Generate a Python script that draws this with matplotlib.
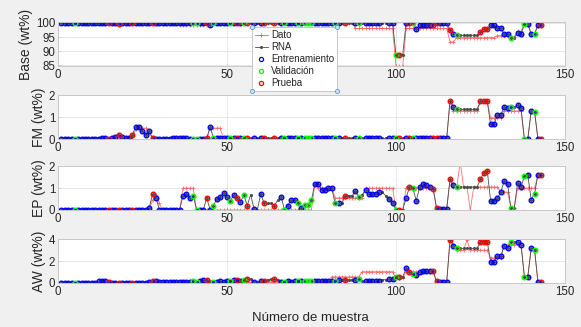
import numpy as np
import matplotlib
matplotlib.use("Agg")
import matplotlib.pyplot as plt
from matplotlib.lines import Line2D

plt.rcParams['font.family'] = ['Liberation Sans', 'DejaVu Sans']

# sample number and which set each sample belongs to
# B = Entrenamiento, G = Validacion, P = Prueba, N = no circle
sample = np.arange(1, 144)
split = list(
    "BBBBGBBBBB" "BBBBPBBPBB" "BPBBBBBPBB" "BBBBBBBBBG" "GBBPBGBBBB"
    "GBPBGPNBNB" "PNNPNBGBBB" "GBGGGBBBBB" "BGBNPNNBGN" "BBBBBNNBBG"
    "PNBPGBBBBB" "PPBBBPBGNN" "NNNNPPPBBB" "BBBGNBBGBB" "GBP"
)

base_rna = [100] * 15 + [99.8, 100, 99.7, 100, 100,
            100, 99.8, 100, 100, 99.8, 100, 100, 99.8, 100, 100] + [100] * 13 + [99.8, 99.2] + [100] * 54 + [
            88.7, 88.8, 88.8, 100, 100, 100, 97.7, 99.1, 99.1, 99.1, 99.3,
            99.3, 100, 100, 100, 100, 97.4, 96.2, 95.6, 95.6, 95.6,
            95.6, 95.6, 95.6, 95.6, 96.8, 97.7, 97.7, 99.1, 99.1, 98.0,
            98.0, 96.2, 96.2, 94.7, 94.7, 96.5, 96.0, 99.5, 99.5, 96.2,
            96.2, 99.2, 99.2]
base_dato = [100] * 35 + [99.4] * 9 + [100] * 43 + [98.0] * 12 + [84.7] * 3 + [98.0] * 13 + [
             93.3, 93.3] + [94.8] * 12 + [95.5] * 4 + [95.0, 95.0, 97.0, 97.0, 99.5, 99.5, 96.0, 96.0, 99.0, 99.0]

fm_rna = [0.02] * 10 + [
          0.02, 0.02, 0.03, 0.03, 0.02, 0.05, 0.1, 0.2, 0.1, 0.03,
          0.03, 0.2, 0.55, 0.55, 0.35, 0.2, 0.35, 0.05, 0.02, 0.02,
          0.02, 0.02, 0.02, 0.03, 0.05, 0.05, 0.03, 0.03, 0.02, 0.02,
          0.02, 0.02, 0.02, 0.03, 0.55, 0.05, 0.05, 0.05, 0.04, 0.03] + [0.03] * 20 + [0.06] * 10 + [0.03] * 35 + [
          1.75, 1.47, 1.35, 1.35, 1.35, 1.35, 1.35, 1.35, 1.35, 1.72,
          1.72, 1.72, 0.67, 0.67, 1.1, 1.1, 1.47, 1.4, 1.47, 1.45,
          1.55, 1.42, 0, 0, 1.28, 1.25, 0, 0]
fm_dato = [0] * 17 + [0.15, 0, 0, 0, 0, 0.45, 0.5, 0.5, 0.5, 0.3] + [0] * 17 + [0.5] * 4 + [0] * 67 + [
           1.75] + [1.28] * 8 + [1.72] * 3 + [0.96] * 4 + [1.28] * 6 + [0, 0, 1.25, 1.25, 0, 0]

ep_rna = [0.02] * 26 + [
          0.1, 0.72, 0.55, 0.02,
          0.02, 0.02, 0.02, 0.02, 0.02, 0.02, 0.66, 0.74, 0.55, 0.66,
          0.02, 0.02, 0.02, 0.55, 0.02, 0.2, 0.5, 0.6, 0.77, 0.6,
          0.43, 0.68, 0.55, 0.37, 0.68, 0.2, 0.7, 0.05, 0.02, 0.74,
          0.3, 0.3, 0.3, 0.2, 0.45, 0.6, 0.02, 0.2, 0.45, 0.45,
          0.3, 0.1, 0.25, 0.25, 0.45, 1.2, 1.2, 0.93, 0.93, 1.0,
          1.0, 0.3, 0.3, 0.3, 0.65, 0.65, 0.65, 0.85, 0.6, 0.7,
          0.9, 0.75, 0.75, 0.75, 0.8, 0.8, 0.65, 0.5, 0.3, 0.02,
          0.02, 0.02, 0.55, 1.05, 1.0, 0.42, 1.05, 1.2, 1.12, 1.05,
          0.98, 0.1, 0.05, 0.05, 0.05, 1.4, 1.13, 1.05, 1.05, 1.05,
          1.05, 1.05, 1.05, 1.05, 1.4, 1.7, 1.8, 0.42, 0.42, 0.55,
          0.8, 1.32, 1.2, 0.1, 0.1, 1.25, 1.05, 1.55, 1.6, 0.47,
          0.75, 1.6, 1.6]
ep_dato = [0] * 26 + [0.02, 0.45, 0.7, 0.3] + [0] * 6 + [1.0] * 4 + [0] * 35 + [1.2] + [1.0] * 5 + [0.55] * 9 + [
           1.0] * 9 + [0, 0, 0] + [1.0] * 9 + [0.05] * 4 + [1.4, 1.05, 1.05, 2.2, 1.05, 1.05, 0.0] + [1.05] * 8 + [
           0.82] * 3 + [0.1, 0.1, 1.0, 1.0, 1.0, 1.0, 1.0, 1.0, 1.6, 1.6]

aw_rna = [0.02] * 10 + [
          0.02, 0.15, 0.2, 0.2, 0.05, 0.03, 0.03, 0.03, 0.03, 0.03,
          0.03, 0.03, 0.03, 0.03, 0.03, 0.03, 0.05, 0.2, 0.15, 0.1,
          0.05, 0.05, 0.05, 0.08, 0.1, 0.1, 0.1, 0.08, 0.12, 0.15,
          0.1, 0.2, 0.25, 0.3, 0.0, 0.1, 0.12, 0.15, 0.12, 0.15,
          0.2, 0.25, 0.3, 0.2, 0.3, 0.35, 0.35, 0.1, 0.12, 0.15,
          0.2, 0.3, 0.35, 0.35, 0.3, 0.1, 0.12, 0.15, 0.1, 0.15,
          0.15, 0.2, 0.15, 0.2, 0.2, 0.15, 0.15, 0.15, 0.15, 0.15,
          0.2, 0.2, 0.25, 0.3, 0.3, 0.25, 0.3, 0.3, 0.35, 0.2,
          0.15, 0.15, 0.15, 0.15, 0.2, 0.3, 0.3, 0.35, 0.4, 0.56,
          0.56, 0.56, 1.34, 1.03, 0.8, 0.7, 1.0, 1.05, 1.05, 1.1,
          1.1, 0.16, 0.05, 0.05, 0.05, 3.95, 3.37, 3.15, 3.15, 3.15,
          3.15, 3.15, 3.15, 3.15, 3.77, 3.77, 3.77, 1.96, 1.96, 2.43,
          2.43, 3.37, 3.2, 3.77, 3.77, 3.77, 3.5, 0.56, 0.56, 3.2,
          3.05, 0.1, 0.1]
aw_dato = [0] * 50 + [0.05] * 10 + [0.1] * 20 + [0.56] * 9 + [1.03] * 10 + [0.5] * 3 + [1.03] * 9 + [0.05] * 4 + [
           4.0, 3.5, 3.0, 3.0, 3.0, 3.9, 3.0, 3.0, 3.0, 3.0, 3.0, 3.0] + [2.3] * 4 + [3.5] * 6 + [
           0.6, 0.6, 3.0, 3.0, 0.05, 0.05]

panels = [
    ("Base (wt%)", base_dato, base_rna, (84.8, 100.2), [85, 90, 95, 100]),
    ("FM (wt%)", fm_dato, fm_rna, (0, 2), [0, 1, 2]),
    ("EP (wt%)", ep_dato, ep_rna, (0, 2), [0, 1, 2]),
    ("AW (wt%)", aw_dato, aw_rna, (0, 4), [0, 2, 4]),
]
set_colors = {"B": (0, 0, 1), "G": (0, 1, 0), "P": (1, 0, 0)}
set_names = {"B": "Entrenamiento", "G": "Validación", "P": "Prueba"}

fig = plt.figure(figsize=(5.81, 3.27), dpi=100, facecolor="#f0f0f0")
bottoms = [0.798, 0.5749, 0.3578, 0.1346]
height = 0.134
split_arr = np.array(split)

for (lab, dato, rna, ylim, yt), b in zip(panels, bottoms):
    ax = fig.add_axes([0.0998, b, 0.8726, height])
    dato = np.array(dato)
    rna = np.array(rna)
    ax.plot(sample, dato, color=(1, 0.35, 0.35), lw=0.6, alpha=0.85,
            marker="+", ms=3, mew=0.6, label="Dato")
    ax.plot(sample, rna, color="0.3", lw=0.6, marker=".", ms=2.5, label="RNA")
    for k in ["B", "G", "P"]:
        m = split_arr == k
        ax.plot(sample[m], rna[m], ls="none", marker="o", ms=3.3, mfc="none",
                mec=set_colors[k], mew=1.0, label=set_names[k])
    ax.set_xlim(0, 150)
    ax.set_ylim(*ylim)
    ax.set_xticks([0, 50, 100, 150])
    ax.set_yticks(yt)
    ax.grid(True, color="#e3e3e3", lw=0.6)
    ax.set_axisbelow(True)
    for s in ax.spines.values():
        s.set_color("#c8c8c8")
        s.set_linewidth(0.7)
    ax.tick_params(direction="in", length=2, width=0.5, colors="#c8c8c8",
                   labelcolor="#262626", labelsize=8.3, pad=2)
    ax.set_ylabel(lab, fontsize=10, color="#262626", labelpad=2)

fig.text(0.535, 0.008, "Número de muestra", ha="center", va="bottom",
         fontsize=9.5, color="#262626")

handles = [
    Line2D([], [], color=(1, 0.35, 0.35), lw=0.6, marker="+", ms=3, mew=0.6),
    Line2D([], [], color="0.3", lw=0.6, marker=".", ms=2.5),
] + [Line2D([], [], ls="none", marker="o", ms=3, mfc="none", mec=set_colors[k], mew=0.9)
     for k in ["B", "G", "P"]]
labels = ["Dato", "RNA"] + [set_names[k] for k in ["B", "G", "P"]]
leg = fig.legend(handles, labels, loc="upper left", bbox_to_anchor=(0.4337, 0.9174),
                 borderaxespad=0, fontsize=7, frameon=True, fancybox=False,
                 edgecolor="#c8c8c8", framealpha=1, handlelength=1.35,
                 handletextpad=0.35, borderpad=0.3, labelspacing=0.22)
leg.get_frame().set_linewidth(0.7)
for t in leg.get_texts():
    t.set_color("#262626")

# selection handles at the legend corners
fig.canvas.draw()
bb = leg.get_window_extent().transformed(fig.transFigure.inverted())
corners_x = [bb.x0, bb.x1, bb.x0, bb.x1]
corners_y = [bb.y1, bb.y1, bb.y0, bb.y0]
fig.add_artist(Line2D(corners_x, corners_y, transform=fig.transFigure, ls="none",
                      marker="o", ms=3, mfc="#cfe3f5", mec="#5b9bd5", mew=0.6, zorder=10))

fig.savefig("out.png", dpi=100, facecolor=fig.get_facecolor())
